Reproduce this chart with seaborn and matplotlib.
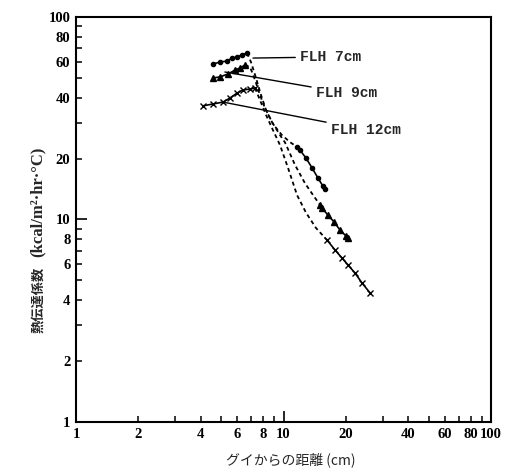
import matplotlib
matplotlib.use("Agg")
import matplotlib.pyplot as plt
import matplotlib.ticker as mticker
import pandas as pd
import seaborn as sns

# Heat transfer coefficient vs. distance from the die, three frost-line heights.
# Each curve: measured points near the die, a dashed connecting trend, measured points downstream.
flh7_left_x = [4.57, 4.94, 5.34, 5.65, 5.97, 6.31, 6.67]
flh7_left_y = [58.6, 59.9, 60.6, 62.7, 63.5, 64.9, 66.4]
flh7_mid_x = [6.67, 6.97, 7.37, 7.79, 8.24, 8.90, 9.83, 10.75, 11.62]
flh7_mid_y = [66.4, 59.9, 50.0, 41.2, 34.7, 29.6, 26.1, 24.1, 22.8]
flh7_right_x = [11.62, 12.01, 12.84, 13.72, 14.67, 15.50, 15.85]
flh7_right_y = [22.8, 22.0, 20.1, 18.0, 16.0, 14.6, 14.15]

flh9_left_x = [4.57, 4.94, 5.40, 5.84, 6.17, 6.52]
flh9_left_y = [50.0, 50.6, 52.3, 54.7, 56.0, 57.9]
flh9_mid_x = [6.52, 6.90, 7.29, 7.70, 8.14, 8.80, 9.62, 10.17, 11.36, 12.69, 13.88, 15.00]
flh9_mid_y = [57.9, 56.6, 48.9, 41.2, 35.5, 30.3, 26.1, 24.0, 18.6, 15.1, 13.2, 11.8]
flh9_right_x = [15.00, 15.33, 16.39, 17.52, 18.72, 20.01, 20.46]
flh9_right_y = [11.8, 11.4, 10.5, 9.72, 8.87, 8.29, 8.10]

flh12_left_x = [4.09, 4.57, 5.11, 5.52, 5.97, 6.38, 6.90, 7.29]
flh12_left_y = [36.4, 37.2, 38.0, 39.8, 42.1, 43.6, 44.1, 44.6]
flh12_mid_x = [7.29, 7.70, 8.24, 8.80, 9.62, 10.51, 11.62, 12.84, 14.34, 16.20]
flh12_mid_y = [44.6, 38.9, 32.8, 28.3, 23.3, 18.0, 13.2, 10.8, 9.08, 7.92]
flh12_right_x = [16.20, 17.71, 19.14, 20.46, 22.11, 23.89, 26.12]
flh12_right_y = [7.92, 7.07, 6.45, 5.96, 5.44, 4.86, 4.34]

# label text, label anchor, point on curve that the leader touches
curve_labels = ["FLH 7cm", "FLH 9cm", "FLH 12cm"]
label_pos = [(12.0, 63.5), (14.3, 42.1), (16.9, 27.7)]
leader_tip = [(7.13, 62.7), (5.22, 53.5), (5.11, 38.0)]

x_ticks_labeled = [1, 2, 4, 6, 8, 10, 20, 40, 60, 80, 100]
y_ticks_labeled = [1, 2, 4, 6, 8, 10, 20, 40, 60, 80, 100]

x_title = "グイからの距離 (cm)"
y_title_jp = "熱伝達係数"
y_title_unit = "(kcal/m²·hr·°C)"

sns.set_theme(style="ticks")
plt.rcParams["font.family"] = ["Liberation Serif", "DejaVu Serif"]

fig = plt.figure(figsize=(5.05, 4.75), dpi=100)
ax = fig.add_axes([0.1505, 0.1116, 0.8218, 0.8526])

curves = [
    (flh7_left_x, flh7_left_y, flh7_mid_x, flh7_mid_y, flh7_right_x, flh7_right_y, "o", 3.0),
    (flh9_left_x, flh9_left_y, flh9_mid_x, flh9_mid_y, flh9_right_x, flh9_right_y, "^", 3.8),
    (flh12_left_x, flh12_left_y, flh12_mid_x, flh12_mid_y, flh12_right_x, flh12_right_y, "x", 4.0),
]

for lx, ly, mx, my, rx, ry, mk, ms in curves:
    left = pd.DataFrame({"x": lx, "y": ly})
    mid = pd.DataFrame({"x": mx, "y": my})
    right = pd.DataFrame({"x": rx, "y": ry})
    sns.lineplot(data=left, x="x", y="y", ax=ax, color="black", lw=1.2,
                 marker=mk, markersize=ms, markeredgecolor="black",
                 markeredgewidth=1.0, estimator=None, sort=False)
    sns.lineplot(data=mid, x="x", y="y", ax=ax, color="black", lw=1.3,
                 linestyle=(0, (2.2, 1.8)), estimator=None, sort=False)
    sns.lineplot(data=right, x="x", y="y", ax=ax, color="black", lw=1.2,
                 marker=mk, markersize=ms, markeredgecolor="black",
                 markeredgewidth=1.0, estimator=None, sort=False)

for text, (tx, ty), (px, py) in zip(curve_labels, label_pos, leader_tip):
    ax.annotate(text, xy=(px, py), xytext=(tx, ty), textcoords="data",
                ha="left", va="center", fontsize=10.5, fontweight="bold",
                family=["Liberation Mono", "DejaVu Sans Mono"],
                arrowprops=dict(arrowstyle="-", color="black", lw=1.0,
                                shrinkA=1, shrinkB=0))

ax.set_xscale("log")
ax.set_yscale("log")
ax.set_xlim(1, 100)
ax.set_ylim(1, 100)

label_fmt = mticker.FuncFormatter(
    lambda v, pos: (f"{v:g}" if any(abs(v - t) < 1e-6 for t in x_ticks_labeled) else ""))
label_fmt_y = mticker.FuncFormatter(
    lambda v, pos: (f"{v:g}" if any(abs(v - t) < 1e-6 for t in y_ticks_labeled) else ""))

for axis, fmt in ((ax.xaxis, label_fmt), (ax.yaxis, label_fmt_y)):
    axis.set_major_locator(mticker.FixedLocator([1, 10, 100]))
    axis.set_minor_locator(mticker.FixedLocator(
        [2, 3, 4, 5, 6, 7, 8, 9, 20, 30, 40, 50, 60, 70, 80, 90]))
    axis.set_major_formatter(fmt)
    axis.set_minor_formatter(fmt)

ax.tick_params(which="major", direction="in", length=8, width=1.2,
               top=False, right=False, labelsize=10.5, pad=4, colors="black")
ax.tick_params(which="minor", direction="in", length=4, width=1.1,
               top=False, right=False, labelsize=10.5, pad=4, colors="black")
for lab in ax.get_xticklabels(which="both") + ax.get_yticklabels(which="both"):
    lab.set_fontweight("bold")

for sp in ax.spines.values():
    sp.set_visible(True)
    sp.set_color("black")
    sp.set_linewidth(1.5)

ax.set_xlabel("")
ax.set_ylabel("")

# axis titles placed in figure coordinates
fig.text(291 / 505, 1 - 460 / 475, x_title, ha="center", va="center",
         fontsize=10, family=["Noto Sans CJK JP", "DejaVu Sans"])
fig.text(38 / 505, 1 - 300 / 475, y_title_jp, ha="center", va="center",
         rotation=90, fontsize=9.5, fontweight="bold",
         family=["Noto Sans CJK JP", "DejaVu Sans"])
fig.text(38 / 505, 1 - 202 / 475, y_title_unit, ha="center", va="center",
         rotation=90, fontsize=12, fontweight="bold",
         family=["Liberation Serif", "DejaVu Serif"])

fig.savefig("out.png", dpi=100, facecolor="white")
